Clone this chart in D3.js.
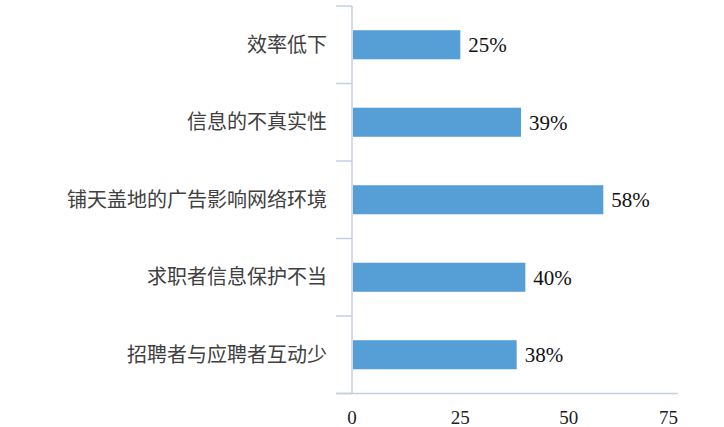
<!DOCTYPE html>
<html><head><meta charset="utf-8">
<script src="https://cdn.jsdelivr.net/npm/d3@7"></script>
<style>body{margin:0;background:#fff;} svg{display:block;} .serif{font-family:"Liberation Serif", serif;}</style>
</head><body>
<svg id="chart" width="724" height="427"></svg>
<script>
const categories = ["效率低下","信息的不真实性","铺天盖地的广告影响网络环境","求职者信息保护不当","招聘者与应聘者互动少"];
const values = [25, 39, 58, 40, 38];
const valueLabels = ["25%","39%","58%","40%","38%"];
const xTicks = [0, 25, 50, 75];

const svg = d3.select("#chart");
const x = d3.scaleLinear().domain([0, 75]).range([352, 677]);
const y = d3.scaleBand().domain(categories).range([6, 393.5]).paddingInner(0.625).paddingOuter(0.3125);
const axisColor = "#c3cfe2";

svg.append("line").attr("x1", 352).attr("x2", 352).attr("y1", 6).attr("y2", 393.5)
  .attr("stroke", axisColor).attr("stroke-width", 1.5);
svg.append("line").attr("x1", 336).attr("x2", 678).attr("y1", 393.5).attr("y2", 393.5)
  .attr("stroke", axisColor).attr("stroke-width", 1.5);
const bounds = d3.range(categories.length + 1).map(i => 6 + i * (393.5 - 6) / categories.length);
svg.selectAll("line.tick").data(bounds).enter().append("line")
  .attr("x1", 336).attr("x2", 352).attr("y1", d => d).attr("y2", d => d)
  .attr("stroke", axisColor).attr("stroke-width", 1.5);

svg.selectAll("rect.bar").data(values).enter().append("rect")
  .attr("x", x(0) + 1)
  .attr("y", (d, i) => y(categories[i]))
  .attr("width", d => x(d) - x(0) - 1)
  .attr("height", y.bandwidth())
  .attr("fill", "#569fd6");

svg.selectAll("text.val").data(values).enter().append("text")
  .attr("class", "serif")
  .attr("x", d => x(d) + 8)
  .attr("y", (d, i) => y(categories[i]) + y.bandwidth() / 2)
  .attr("dy", "0.35em")
  .attr("font-size", 21)
  .attr("fill", "#111")
  .text((d, i) => valueLabels[i]);

svg.selectAll("text.cat").data(categories).enter().append("text")
  .attr("x", 327)
  .attr("y", d => y(d) + y.bandwidth() / 2)
  .attr("dy", "0.35em")
  .attr("text-anchor", "end")
  .attr("font-family", "'Noto Sans CJK SC', 'Noto Sans', sans-serif")
  .attr("font-size", 20)
  .attr("fill", "#404040")
  .text(d => d);

svg.selectAll("text.xt").data(xTicks).enter().append("text")
  .attr("class", "serif")
  .attr("x", (d, i) => i === xTicks.length - 1 ? 678 : x(d))
  .attr("y", 424)
  .attr("text-anchor", (d, i) => i === xTicks.length - 1 ? "end" : "middle")
  .attr("font-size", 19)
  .attr("fill", "#222")
  .text(d => d);
</script>
</body></html>
